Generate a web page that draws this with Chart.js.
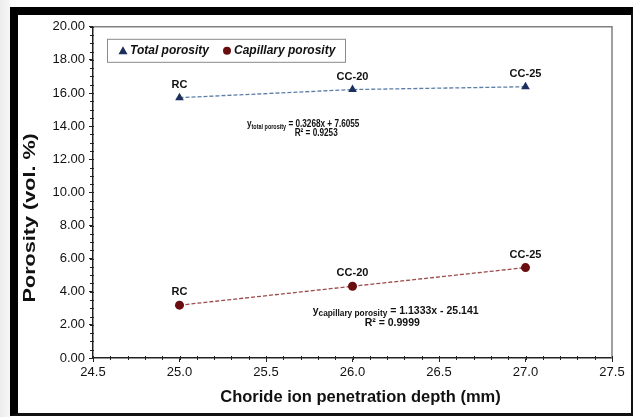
<!DOCTYPE html>
<html>
<head>
<meta charset="utf-8">
<script src="https://cdn.jsdelivr.net/npm/chart.js@4.4.1/dist/chart.umd.min.js"></script>
<style>
  html, body { margin: 0; padding: 0; background: #fff; }
  body { width: 636px; height: 417px; position: relative; overflow: hidden;
         background: linear-gradient(to right, #ececec 0, #f7f7f7 10px, #fff 10px); }
  #frame { position: absolute; left: 10px; top: 7px; width: 613px; height: 398px;
           border-top: 8px solid #000; border-left: 8px solid #000;
           border-right: 2px solid #111; border-bottom: 3px solid #111; background: #fff; }
  #chart { display: block; }
</style>
</head>
<body>
<div id="frame"><canvas id="chart" width="613" height="398"></canvas></div>
<script>
// Porosity vs chloride penetration depth
const depth = [25.0, 26.0, 27.0];
const totalPorosity = [15.72, 16.21, 16.38];
const capillaryPorosity = [3.19, 4.33, 5.46];
const sampleNames = ['RC', 'CC-20', 'CC-25'];
const seriesNames = ['Total porosity', 'Capillary porosity'];

const xRange = [24.5, 27.5], xStep = 0.5;
const yRange = [0, 20], yStep = 2;

const FONT = '"Liberation Sans", Arial, Helvetica, sans-serif';

const toPoints = ys => depth.map((x, i) => ({ x, y: ys[i] }));

// fitted equations, written on the plot next to each series
const fits = [
  { sub: 'total porosity', rest: ' = 0.3268x + 7.6055', r2: 'R² = 0.9253',
    at: [25.39, 13.93], r2At: [25.79, 13.39], size: 10.5, sub_size: 7, sx: 0.78 },
  { sub: 'capillary porosity', rest: ' = 1.1333x - 25.141', r2: 'R² = 0.9999',
    at: [25.77, 2.64], r2At: [26.23, 1.92], size: 10.5, sub_size: 8.3, sx: 1 }
];

const extras = {
  id: 'extras',
  beforeDatasetsDraw(chart) {
    const { ctx, chartArea: a, scales: { x, y } } = chart;
    ctx.save();
    // top / right frame of the plot area
    ctx.strokeStyle = '#808080';
    ctx.lineWidth = 1.5;
    ctx.beginPath();
    ctx.moveTo(a.left, a.top); ctx.lineTo(a.right, a.top); ctx.lineTo(a.right, a.bottom);
    ctx.stroke();
    // minor ticks
    ctx.strokeStyle = '#222';
    ctx.lineWidth = 1;
    ctx.beginPath();
    for (let v = xRange[0]; v <= xRange[1] + 1e-9; v += 0.1) {
      const px = Math.round(x.getPixelForValue(v)) + 0.5;
      ctx.moveTo(px, a.bottom - 2); ctx.lineTo(px, a.bottom + 2);
    }
    for (let v = yRange[0]; v <= yRange[1] + 1e-9; v += 0.5) {
      const py = Math.round(y.getPixelForValue(v)) + 0.5;
      ctx.moveTo(a.left - 3, py); ctx.lineTo(a.left + 1, py);
    }
    ctx.stroke();
    ctx.restore();
  },
  afterDatasetsDraw(chart) {
    const { ctx, chartArea: a, scales: { x, y } } = chart;
    ctx.save();
    ctx.fillStyle = '#111';

    // sample names above the points
    ctx.font = 'bold 11px ' + FONT;
    ctx.textAlign = 'center';
    ctx.textBaseline = 'alphabetic';
    chart.data.datasets.forEach((ds, di) => {
      chart.getDatasetMeta(di).data.forEach((pt, i) => {
        ctx.fillText(sampleNames[i], pt.x, pt.y - 10);
      });
    });

    // regression equations
    fits.forEach(f => {
      const px = x.getPixelForValue(f.at[0]), py = y.getPixelForValue(f.at[1]);
      ctx.save();
      ctx.translate(px, py);
      ctx.scale(f.sx, 1);
      ctx.textAlign = 'left';
      ctx.font = 'bold ' + f.size + 'px ' + FONT;
      ctx.fillText('y', 0, 0);
      let cx = ctx.measureText('y').width;
      ctx.font = 'bold ' + f.sub_size + 'px ' + FONT;
      ctx.fillText(f.sub, cx, 2);
      cx += ctx.measureText(f.sub).width;
      ctx.font = 'bold ' + f.size + 'px ' + FONT;
      ctx.fillText(f.rest, cx, 0);
      ctx.restore();

      ctx.save();
      ctx.translate(x.getPixelForValue(f.r2At[0]), y.getPixelForValue(f.r2At[1]));
      ctx.scale(f.sx, 1);
      ctx.textAlign = 'center';
      ctx.font = 'bold ' + f.size + 'px ' + FONT;
      ctx.fillText(f.r2, 0, 0);
      ctx.restore();
    });

    // legend box inside the plot
    const lx = a.left + 14, ly = a.top + 12, lw = 238, lh = 23;
    ctx.fillStyle = '#fff';
    ctx.fillRect(lx, ly, lw, lh);
    ctx.strokeStyle = '#8a8a8a';
    ctx.lineWidth = 1;
    ctx.strokeRect(lx + 0.5, ly + 0.5, lw, lh);
    ctx.font = 'italic bold 12px ' + FONT;
    ctx.textAlign = 'left';
    ctx.textBaseline = 'middle';
    const cy = ly + lh / 2 + 0.5;
    const items = [
      { off: 16, ds: chart.data.datasets[0] },
      { off: 120, ds: chart.data.datasets[1] }
    ];
    items.forEach(it => {
      const mx = lx + it.off;
      ctx.fillStyle = it.ds.pointBackgroundColor;
      ctx.beginPath();
      if (it.ds.pointStyle === 'triangle') {
        ctx.moveTo(mx, cy - 4.5); ctx.lineTo(mx + 4.5, cy + 3.5); ctx.lineTo(mx - 4.5, cy + 3.5);
        ctx.closePath();
      } else {
        ctx.arc(mx, cy, 4, 0, Math.PI * 2);
      }
      ctx.fill();
      ctx.fillStyle = '#111';
      ctx.fillText(it.ds.label, mx + 7, cy);
    });

    // axis titles
    ctx.fillStyle = '#111';
    ctx.textAlign = 'center';
    ctx.textBaseline = 'middle';
    ctx.font = 'bold 16.5px ' + FONT;
    ctx.fillText('Choride ion penetration depth (mm)', (a.left + a.right) / 2 + 8, a.bottom + 39);
    ctx.save();
    ctx.translate(13, a.top + 191);
    ctx.rotate(-Math.PI / 2);
    ctx.scale(1.35, 1);
    ctx.font = 'bold 16px ' + FONT;
    ctx.fillText('Porosity (vol. %)', 0, 0);
    ctx.restore();

    ctx.restore();
  }
};

new Chart(document.getElementById('chart'), {
  type: 'scatter',
  data: {
    datasets: [
      {
        label: seriesNames[0],
        data: toPoints(totalPorosity),
        showLine: true,
        borderColor: '#5a7ea6',
        borderWidth: 1.3,
        borderDash: [4, 2],
        pointStyle: 'triangle',
        pointRadius: 5,
        pointBackgroundColor: '#1d2f5c',
        pointBorderColor: '#1d2f5c',
        pointBorderWidth: 0
      },
      {
        label: seriesNames[1],
        data: toPoints(capillaryPorosity),
        showLine: true,
        borderColor: '#9c4b4b',
        borderWidth: 1.3,
        borderDash: [4, 2],
        pointStyle: 'circle',
        pointRadius: 4.5,
        pointBackgroundColor: '#6a0d0e',
        pointBorderColor: '#6a0d0e',
        pointBorderWidth: 0
      }
    ]
  },
  options: {
    responsive: false,
    animation: false,
    layout: { padding: { left: 0, top: 10, right: 19, bottom: 0 } },
    plugins: { legend: { display: false }, tooltip: { enabled: false } },
    scales: {
      x: {
        type: 'linear',
        min: xRange[0], max: xRange[1],
        afterFit: s => { s.height = 55; },
        ticks: { stepSize: xStep, callback: v => v.toFixed(1), color: '#111',
                 font: { family: FONT, size: 13 }, padding: 3, maxRotation: 0 },
        grid: { drawOnChartArea: false, tickLength: 4, color: '#222' },
        border: { color: '#222', width: 1.5 }
      },
      y: {
        min: yRange[0], max: yRange[1],
        afterFit: s => { s.width = 75; },
        ticks: { stepSize: yStep, callback: v => v.toFixed(2), color: '#111',
                 font: { family: FONT, size: 13 }, padding: 4 },
        grid: { drawOnChartArea: false, tickLength: 4, color: '#222' },
        border: { color: '#222', width: 1.5 }
      }
    }
  },
  plugins: [extras]
});
</script>
</body>
</html>
